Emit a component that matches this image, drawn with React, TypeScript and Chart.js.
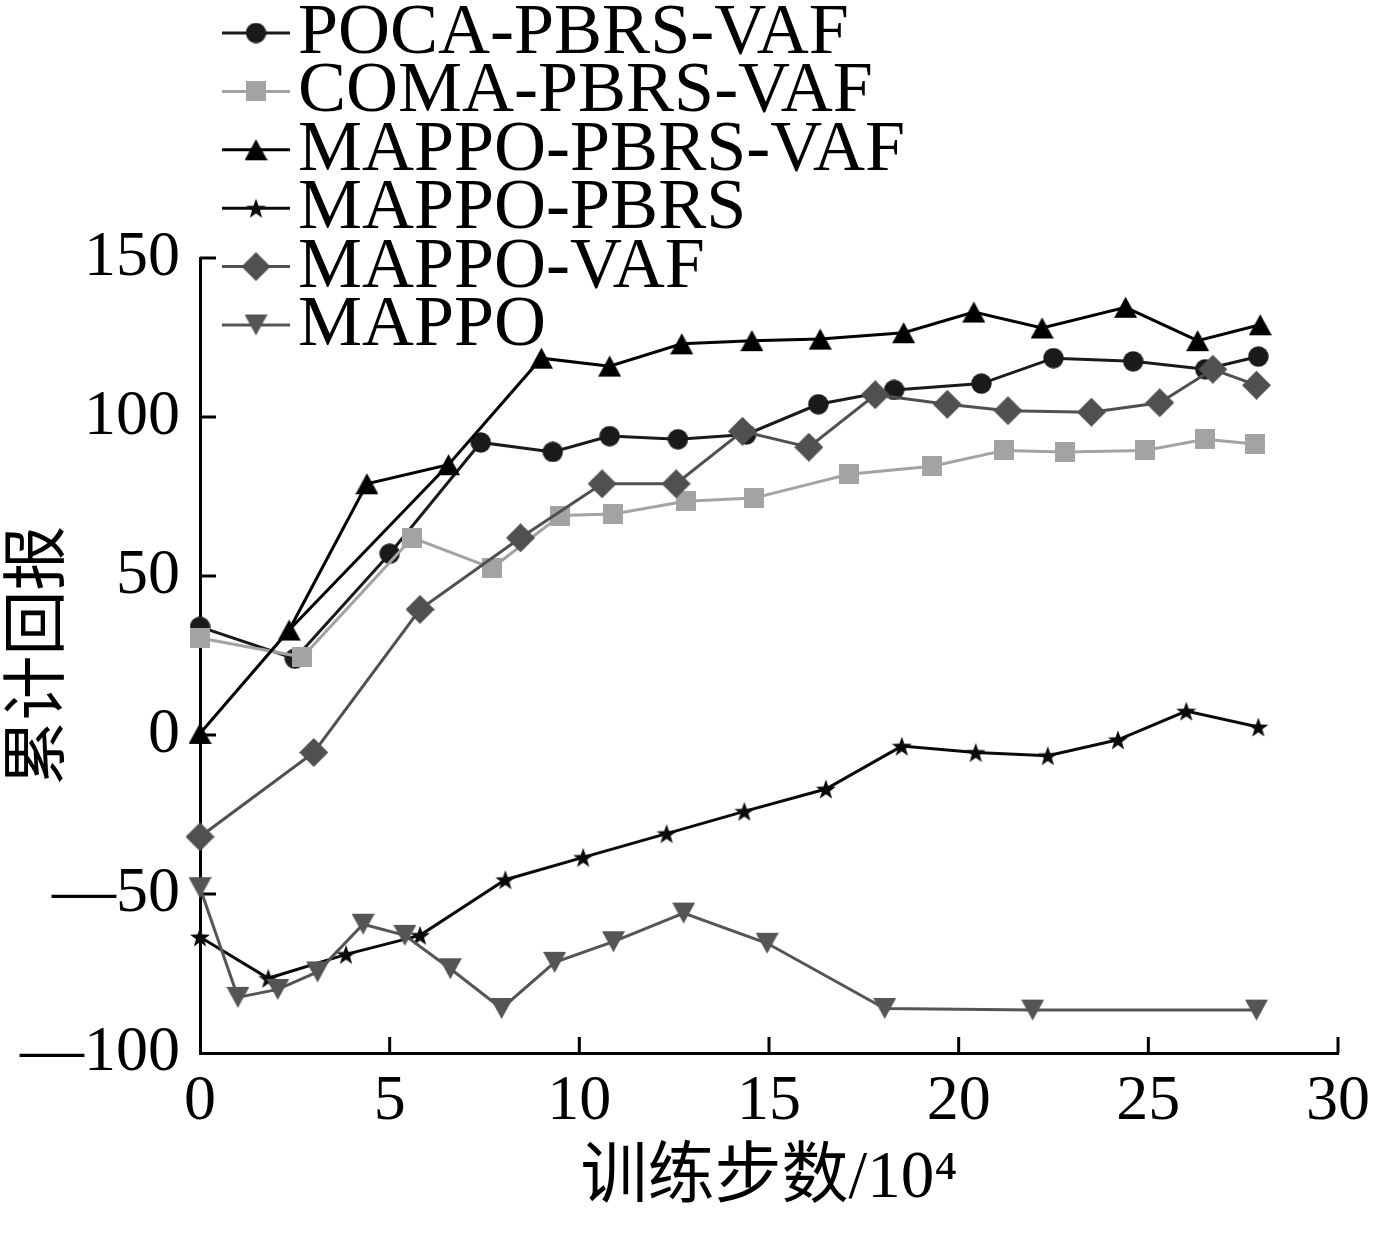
import React, { useEffect, useRef } from 'react';
import { Chart, registerables } from 'chart.js';

Chart.register(...registerables);

// ---------- data ----------
const SERIES_NAMES = ['POCA-PBRS-VAF', 'COMA-PBRS-VAF', 'MAPPO-PBRS-VAF', 'MAPPO-PBRS', 'MAPPO-VAF', 'MAPPO'];

const POCA_X = [0, 2.5, 5.0, 7.4, 9.3, 10.8, 12.6, 14.4, 16.3, 18.3, 20.6, 22.5, 24.6, 26.5, 27.9];
const POCA_Y = [34, 24, 57, 92, 89, 94, 93, 94.5, 104, 108.5, 110.5, 118.5, 117.5, 115, 119];

const COMA_X = [0, 2.7, 5.6, 7.7, 9.5, 10.9, 12.8, 14.6, 17.1, 19.3, 21.2, 22.8, 24.9, 26.5, 27.8];
const COMA_Y = [30.5, 24.5, 62, 52.5, 69, 69.5, 73.5, 74.5, 82, 84.5, 89.5, 89, 89.5, 93, 91.5];

const PBRS_VAF_X = [0, 2.35, 4.4, 6.55, 9.0, 10.8, 12.7, 14.55, 16.35, 18.55, 20.4, 22.2, 24.4, 26.3, 27.95];
const PBRS_VAF_Y = [0.5, 33, 79, 85, 118.5, 116, 123, 124, 124.5, 126.5, 133, 128, 134.5, 124, 129];

const PBRS_X = [0, 1.8, 3.85, 5.8, 8.05, 10.1, 12.3, 14.35, 16.5, 18.5, 20.45, 22.35, 24.2, 26.0, 27.9];
const PBRS_Y = [-63.5, -76.5, -69, -63, -45.5, -38.5, -31, -24, -17, -3.5, -5.5, -6.5, -1.5, 7.5, 2.5];

const VAF_X = [0, 3.0, 5.8, 8.45, 10.6, 12.55, 14.3, 16.05, 17.8, 19.7, 21.3, 23.5, 25.3, 26.7, 27.85];
const VAF_Y = [-32, -5.5, 39.5, 62, 79, 79, 95.5, 90.5, 107, 104, 102, 101.5, 104.5, 115, 110];

const MAPPO_X = [0, 1.0, 2.05, 3.1, 4.3, 5.4, 6.6, 7.95, 9.35, 10.9, 12.75, 14.95, 18.05, 21.95, 27.85];
const MAPPO_Y = [-48, -82.5, -80, -74.5, -59.5, -63, -73.5, -86, -71.5, -65, -56, -65.5, -86, -86.5, -86.5];

// extra straight segment of the MAPPO-PBRS-VAF curve seen in the figure (point 2 -> point 4)
const PBRS_VAF_EXTRA_IDX = [1, 3];

const X_TICKS = [0, 5, 10, 15, 20, 25, 30];
const Y_TICKS = [150, 100, 50, 0, -50, -100];
const Y_TICK_LABELS = ['150', '100', '50', '0', '—50', '—100'];
const X_TITLE = '训练步数/10⁴';
const Y_TITLE = '累计回报';

// ---------- styles ----------
const COLORS = ['#1a1a1a', '#a3a3a3', '#000000', '#0a0a0a', '#505050', '#555555'];
const MARKER_KINDS = ['circle', 'square', 'tri', 'star', 'diamond', 'tridown'];
const SERIF = '"Liberation Serif", "Times New Roman", "Noto Sans CJK SC", serif';

function makeMarker(kind: string, color: string): HTMLCanvasElement {
  const sizes: Record<string, number> = { circle: 21, square: 20, tri: 23, star: 22, diamond: 29, tridown: 23 };
  const s = sizes[kind];
  const c = document.createElement('canvas');
  c.width = s;
  c.height = s;
  const g = c.getContext('2d')!;
  g.fillStyle = color;
  const h = s / 2;
  g.beginPath();
  if (kind === 'circle') {
    g.arc(h, h, h - 0.3, 0, Math.PI * 2);
  } else if (kind === 'square') {
    g.rect(0, 0, s, s);
  } else if (kind === 'tri') {
    g.moveTo(h, 1);
    g.lineTo(s, s - 1);
    g.lineTo(0, s - 1);
    g.closePath();
  } else if (kind === 'tridown') {
    g.moveTo(0, 1);
    g.lineTo(s, 1);
    g.lineTo(h, s - 1);
    g.closePath();
  } else if (kind === 'diamond') {
    g.moveTo(h, 0);
    g.lineTo(s, h);
    g.lineTo(h, s);
    g.lineTo(0, h);
    g.closePath();
  } else if (kind === 'star') {
    const R = h - 0.5;
    const r = R * 0.4;
    for (let i = 0; i < 10; i++) {
      const a = -Math.PI / 2 + (i * Math.PI) / 5;
      const rr = i % 2 === 0 ? R : r;
      const px = h + rr * Math.cos(a);
      const py = h + 1 + rr * Math.sin(a);
      if (i === 0) g.moveTo(px, py);
      else g.lineTo(px, py);
    }
    g.closePath();
  }
  g.fill();
  return c;
}

function zip(xs: number[], ys: number[]) {
  return xs.map((x, i) => ({ x, y: ys[i] }));
}

export default function App() {
  const ref = useRef<HTMLCanvasElement | null>(null);

  useEffect(() => {
    document.body.style.margin = '0';
    const canvas = ref.current;
    if (!canvas) return;

    const markers = MARKER_KINDS.map((k, i) => makeMarker(k, COLORS[i]));
    const seriesData = [
      zip(POCA_X, POCA_Y),
      zip(COMA_X, COMA_Y),
      zip(PBRS_VAF_X, PBRS_VAF_Y),
      zip(PBRS_X, PBRS_Y),
      zip(VAF_X, VAF_Y),
      zip(MAPPO_X, MAPPO_Y),
    ];

    const datasets: any[] = seriesData.map((data, i) => ({
      label: SERIES_NAMES[i],
      data,
      showLine: true,
      borderColor: COLORS[i],
      backgroundColor: COLORS[i],
      borderWidth: 3,
      pointStyle: markers[i],
      pointRadius: 11,
      pointHoverRadius: 11,
      tension: 0,
      clip: false,
      order: 10 - i,
    }));
    datasets.push({
      label: '_extra',
      data: PBRS_VAF_EXTRA_IDX.map((k) => ({ x: PBRS_VAF_X[k], y: PBRS_VAF_Y[k] })),
      showLine: true,
      borderColor: COLORS[2],
      borderWidth: 3,
      pointRadius: 0,
      pointHoverRadius: 0,
      tension: 0,
      clip: false,
      order: 9,
    });

    const innerTicks = {
      id: 'innerTicks',
      beforeDatasetsDraw(chart: any) {
        const { ctx, scales } = chart;
        const xs = scales.x;
        const ys = scales.y;
        ctx.save();
        ctx.strokeStyle = '#000';
        ctx.lineWidth = 3;
        X_TICKS.forEach((v) => {
          if (v === X_TICKS[0]) return;
          const px = xs.getPixelForValue(v);
          ctx.beginPath();
          ctx.moveTo(px, ys.bottom);
          ctx.lineTo(px, ys.bottom - 16);
          ctx.stroke();
        });
        Y_TICKS.forEach((v) => {
          if (v === Y_TICKS[Y_TICKS.length - 1]) return;
          const py = ys.getPixelForValue(v);
          ctx.beginPath();
          ctx.moveTo(xs.left, py);
          ctx.lineTo(xs.left + 16, py);
          ctx.stroke();
        });
        ctx.restore();
      },
    };

    const legendPlugin = {
      id: 'customLegend',
      afterDraw(chart: any) {
        const { ctx } = chart;
        ctx.save();
        const x0 = 222;
        const x1 = 290;
        const top = 33;
        const step = 58.4;
        SERIES_NAMES.forEach((name, i) => {
          const y = top + i * step;
          ctx.strokeStyle = COLORS[i];
          ctx.lineWidth = 3;
          ctx.beginPath();
          ctx.moveTo(x0, y);
          ctx.lineTo(x1, y);
          ctx.stroke();
          const m = markers[i];
          ctx.drawImage(m, (x0 + x1) / 2 - m.width / 2, y - m.height / 2);
          ctx.fillStyle = '#000';
          ctx.font = `72px ${SERIF}`;
          ctx.textBaseline = 'middle';
          ctx.textAlign = 'left';
          ctx.fillText(name, 298, y + 1);
        });
        ctx.restore();
      },
    };

    const chart = new Chart(canvas, {
      type: 'scatter',
      data: { datasets },
      options: {
        animation: false,
        responsive: false,
        devicePixelRatio: 1,
        events: [],
        layout: { padding: { top: 258, right: 36, bottom: 0, left: 0 } },
        plugins: {
          legend: { display: false },
          tooltip: { enabled: false },
        },
        scales: {
          x: {
            type: 'linear',
            position: 'bottom',
            min: 0,
            max: 30,
            afterBuildTicks: (s: any) => {
              s.ticks = X_TICKS.map((v) => ({ value: v }));
            },
            afterFit: (s: any) => {
              s.height = 184;
              s.paddingLeft = 0;
              s.paddingRight = 0;
            },
            grid: { display: false, drawTicks: false },
            border: { display: true, color: '#000', width: 3 },
            ticks: {
              color: '#000',
              font: { family: SERIF, size: 64 },
              padding: 11,
              maxRotation: 0,
              autoSkip: false,
              callback: (v: any) => String(v),
            },
            title: {
              display: true,
              text: X_TITLE,
              color: '#000',
              font: { family: SERIF, size: 67, lineHeight: 1.2 },
              padding: { top: 0, bottom: 17 },
            },
          },
          y: {
            type: 'linear',
            position: 'left',
            min: -100,
            max: 150,
            afterBuildTicks: (s: any) => {
              s.ticks = Y_TICKS.map((v) => ({ value: v }));
            },
            afterFit: (s: any) => {
              s.width = 200;
              s.paddingTop = 0;
              s.paddingBottom = 0;
            },
            grid: { display: false, drawTicks: false },
            border: { display: true, color: '#000', width: 3 },
            ticks: {
              color: '#000',
              font: { family: SERIF, size: 64 },
              padding: 20,
              autoSkip: false,
              callback: (v: any) => {
                const k = Y_TICKS.indexOf(Number(v));
                return k >= 0 ? Y_TICK_LABELS[k] : '';
              },
            },
            title: {
              display: true,
              text: Y_TITLE,
              color: '#000',
              font: { family: '"Noto Sans CJK SC", sans-serif', size: 65, lineHeight: 1 },
              padding: { top: 1, bottom: 0 },
            },
          },
        },
      } as any,
      plugins: [innerTicks, legendPlugin],
    });

    return () => {
      chart.destroy();
    };
  }, []);

  return (
    <div style={{ width: 1374, height: 1237, background: '#fff' }}>
      <canvas ref={ref} width={1374} height={1237} style={{ display: 'block', width: 1374, height: 1237 }} />
    </div>
  );
}
